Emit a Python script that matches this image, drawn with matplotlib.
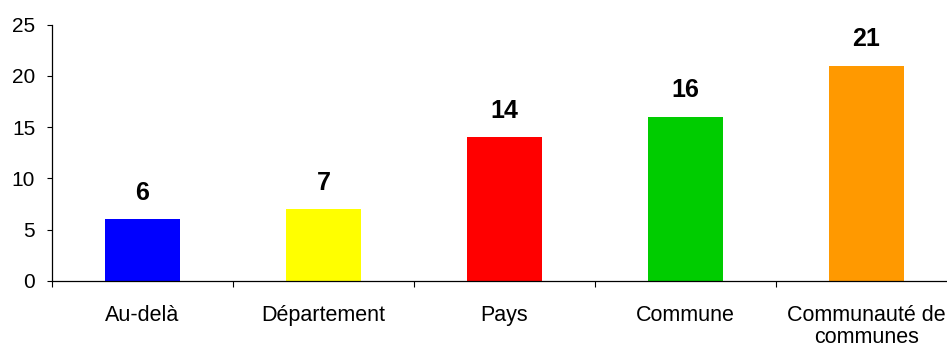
import matplotlib
matplotlib.use("Agg")
import matplotlib.pyplot as plt

categories = ["Au-delà", "Département", "Pays", "Commune", "Communauté de\ncommunes"]
values = [6, 7, 14, 16, 21]
colors = ["#0000FF", "#FFFF00", "#FF0000", "#00CC00", "#FF9900"]
yticks = [0, 5, 10, 15, 20, 25]

plt.rcParams["font.family"] = ["Liberation Sans", "DejaVu Sans"]

W, H = 947, 351
fig = plt.figure(figsize=(W / 100, H / 100), dpi=100)
ax = fig.add_axes([52 / W, (H - 281) / H, 905 / W, 256.3 / H])

x = list(range(len(categories)))
bars = ax.bar(x, values, width=0.41, color=colors, edgecolor="none")

for xi, v in zip(x, values):
    ax.annotate(str(v), (xi, v), xytext=(0, 10.5), textcoords="offset points",
                ha="center", va="bottom", fontsize=18, fontweight="bold")

ax.set_xlim(-0.5, len(categories) - 0.5)
ax.set_ylim(0, 25)
ax.set_yticks(yticks)
ax.set_yticklabels([str(t) for t in yticks], fontsize=15)

# category labels sit between boundary ticks
ax.set_xticks([i - 0.5 for i in range(len(categories) + 1)])
ax.set_xticklabels([])
ax.set_xticks(x, minor=True)
ax.set_xticklabels(categories, minor=True, fontsize=15.5, linespacing=1.1)
ax.tick_params(axis="x", which="minor", length=0, pad=17)
ax.tick_params(axis="x", which="major", length=4.3, width=0.8)
ax.tick_params(axis="y", length=3.6, width=0.8, pad=8.5)

for s in ["top", "right"]:
    ax.spines[s].set_visible(False)
for s in ["left", "bottom"]:
    ax.spines[s].set_linewidth(0.9)

fig.savefig("out.png", dpi=100)
